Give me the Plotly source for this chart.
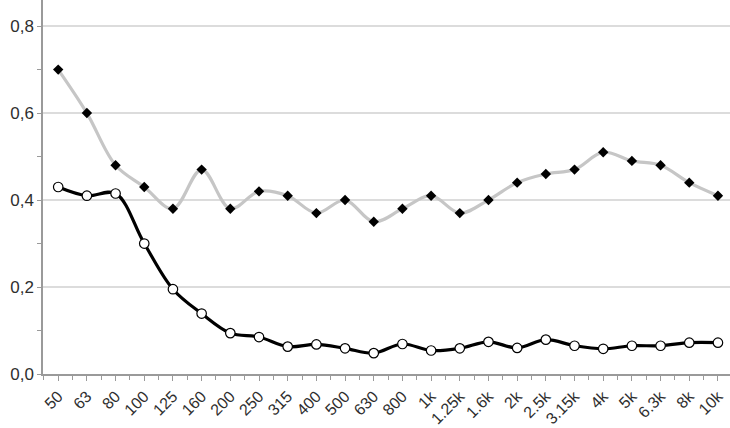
import plotly.graph_objects as go

categories = ["50", "63", "80", "100", "125", "160", "200", "250", "315", "400", "500", "630",
              "800", "1k", "1.25k", "1.6k", "2k", "2.5k", "3.15k", "4k", "5k", "6.3k", "8k", "10k"]
gray_values = [0.70, 0.60, 0.48, 0.43, 0.38, 0.47, 0.38, 0.42, 0.41, 0.37, 0.40, 0.35,
               0.38, 0.41, 0.37, 0.40, 0.44, 0.46, 0.47, 0.51, 0.49, 0.48, 0.44, 0.41]
black_values = [0.43, 0.41, 0.415, 0.30, 0.195, 0.139, 0.094, 0.085, 0.063, 0.068, 0.059, 0.048,
                0.069, 0.054, 0.059, 0.074, 0.060, 0.079, 0.065, 0.058, 0.065, 0.065, 0.072, 0.072]
y_ticks = [0.0, 0.2, 0.4, 0.6, 0.8]

x = list(range(len(categories)))

fig = go.Figure()
fig.add_trace(go.Scatter(
    x=x, y=gray_values, mode="lines+markers",
    line=dict(color="#c6c6c6", width=3.2, shape="spline", smoothing=1.0),
    marker=dict(symbol="diamond", size=8, color="#000000", line=dict(width=0)),
    showlegend=False,
))
fig.add_trace(go.Scatter(
    x=x, y=black_values, mode="lines+markers",
    line=dict(color="#000000", width=3.2, shape="spline", smoothing=1.0),
    marker=dict(symbol="circle", size=9.5, color="#ffffff", line=dict(color="#000000", width=1.2)),
    showlegend=False,
))

fig.update_layout(
    width=730, height=428,
    margin=dict(l=43, r=0, t=0, b=54),
    paper_bgcolor="white", plot_bgcolor="white",
    separators=",.",
    font=dict(family="Liberation Sans, Arial, sans-serif", color="#333333"),
    xaxis=dict(
        range=[-0.53, 23.42], automargin=False,
        tickmode="array", tickvals=x, ticktext=categories,
        tickangle=-45, tickfont=dict(size=16, color="#2e2e2e"),
        showgrid=False, zeroline=False,
        showline=True, linecolor="#9a9a9a", linewidth=1.5,
        ticks="outside", ticklen=5, tickcolor="#9a9a9a", tickwidth=1.2,
        minor=dict(tickmode="linear", tick0=0.5, dtick=1, ticks="outside",
                   ticklen=4, tickcolor="#9a9a9a", tickwidth=1.2, showgrid=False),
    ),
    yaxis=dict(
        range=[0, 0.86], automargin=False,
        tickmode="array", tickvals=y_ticks, tickformat=".1f",
        tickfont=dict(size=17, color="#2e2e2e"),
        showgrid=True, gridcolor="#dcdcdc", gridwidth=1.5,
        zeroline=False,
        showline=True, linecolor="#9a9a9a", linewidth=1.5,
        ticks="outside", ticklen=4, tickcolor="#9a9a9a", tickwidth=1.2,
        minor=dict(tickmode="linear", tick0=0.1, dtick=0.2, ticks="outside",
                   ticklen=4, tickcolor="#9a9a9a", tickwidth=1.2, showgrid=False),
    ),
)

fig.write_html("out.html", config={"displayModeBar": False},
               post_script="document.body.style.margin='0';")
